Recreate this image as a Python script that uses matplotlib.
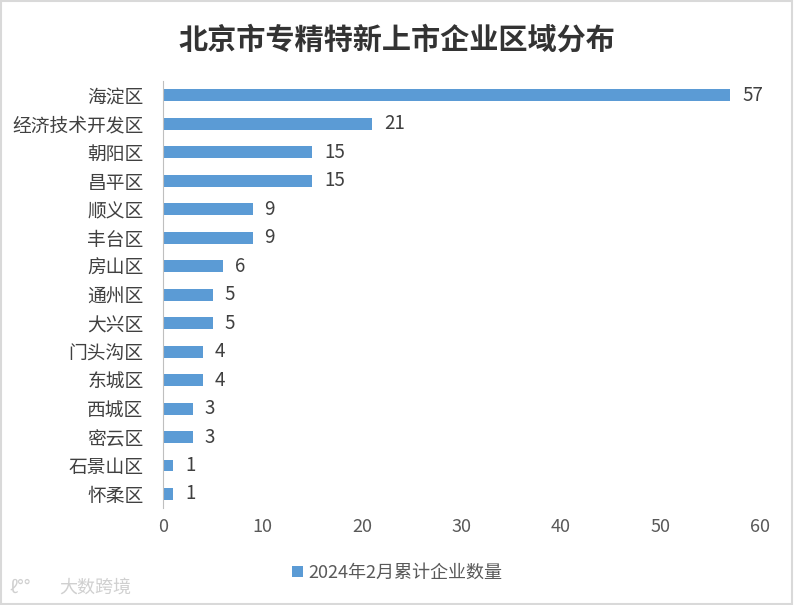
import matplotlib.pyplot as plt

plt.rcParams['font.family'] = ['Noto Sans CJK SC', 'DejaVu Sans']

districts = ['海淀区', '经济技术开发区', '朝阳区', '昌平区', '顺义区', '丰台区', '房山区',
             '通州区', '大兴区', '门头沟区', '东城区', '西城区', '密云区', '石景山区', '怀柔区']
counts = [57, 21, 15, 15, 9, 9, 6, 5, 5, 4, 4, 3, 3, 1, 1]
series_name = '2024年2月累计企业数量'

fig = plt.figure(figsize=(7.94, 6.05), dpi=100)
ax = fig.add_axes([0.2053, 0.160, 0.752, 0.706])

ypos = list(range(len(districts)))[::-1]
bars = ax.barh(ypos, counts, height=0.42, color='#5B9BD5', label=series_name)
for b, v in zip(bars, counts):
    ax.text(b.get_width() + 1.2, b.get_y() + b.get_height() / 2, str(v),
            va='center', ha='left', fontsize=13.5, color='#404040')

ax.set_xlim(0, 60)
ax.set_ylim(-0.5, len(districts) - 0.5)
ax.set_yticks(ypos)
ax.set_yticklabels(districts, fontsize=13.5, color='#404040')
ax.set_xticks(range(0, 61, 10))
ax.tick_params(axis='x', labelsize=13, colors='#595959', length=0, pad=7)
ax.tick_params(axis='y', length=0, pad=14)
for s in ['top', 'right', 'bottom']:
    ax.spines[s].set_visible(False)
ax.spines['left'].set_color('#BFBFBF')

fig.text(0.5, 0.934, '北京市专精特新上市企业区域分布', ha='center', va='center',
         fontsize=21, fontweight='bold', color='#333333')

fig.legend(loc='center', bbox_to_anchor=(0.5, 0.053), frameon=False, fontsize=13,
           handlelength=0.6, handleheight=0.6, handletextpad=0.3, labelcolor='#595959')

fig.text(0.075, 0.028, '大数跨境', ha='left', va='center', fontsize=13, color='#D0D0D0')
fig.text(0.012, 0.028, 'ℓ°°', ha='left', va='center', fontsize=13, color='#D0D0D0')

fig.patches.append(plt.Rectangle((0.001, 0.001), 0.997, 0.997, transform=fig.transFigure,
                                 fill=False, edgecolor='#D9D9D9', linewidth=1.5))

fig.savefig('out.png', dpi=100, facecolor='white')
